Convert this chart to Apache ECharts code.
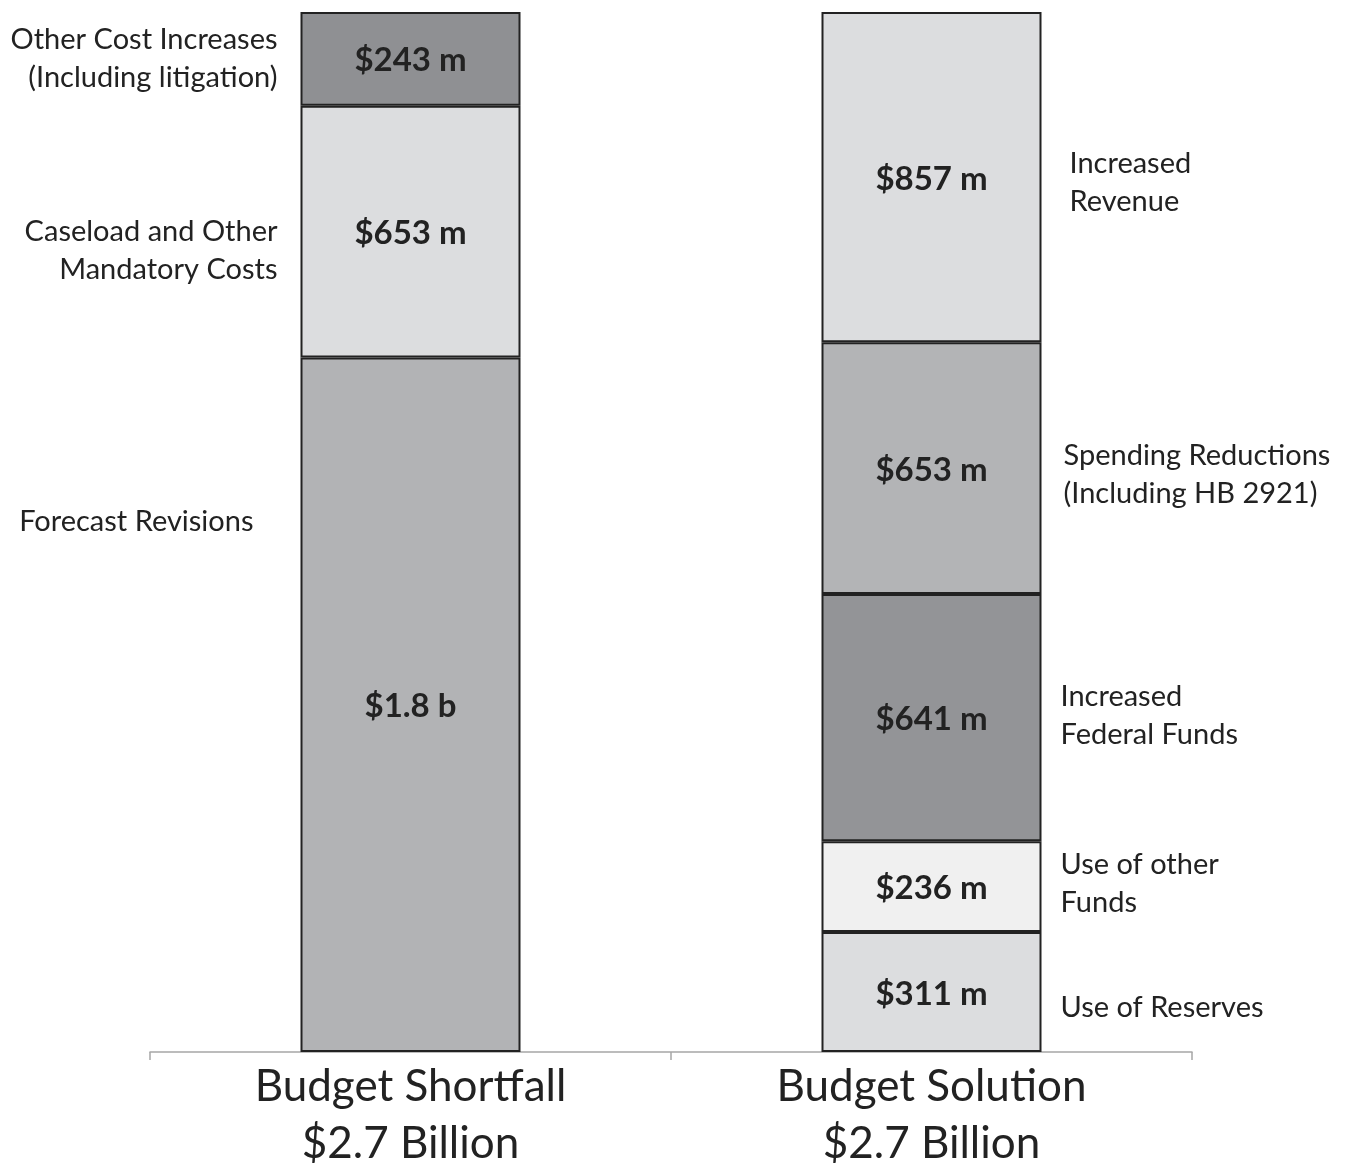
<!DOCTYPE html>
<html>
<head>
<meta charset="utf-8">
<script src="https://cdn.jsdelivr.net/npm/echarts@6/dist/echarts.min.js"></script>
<style>
    html, body { margin: 0; padding: 0; background: #fff; }
    #main { width: 1356px; height: 1164px; }
</style>
</head>
<body>
<div id="main"></div>
<script>
// category labels
var categories = ['Budget Shortfall\n$2.7 Billion', 'Budget Solution\n$2.7 Billion'];

// segments bottom -> top, $ millions
var shortfallNames = ['Forecast Revisions', 'Caseload and Other\nMandatory Costs', 'Other Cost Increases\n(Including litigation)'];
var shortfallValues = [1802, 653, 243];
var shortfallLabels = ['$1.8 b', '$653 m', '$243 m'];

var solutionNames = ['Use of Reserves', 'Use of other\nFunds', 'Increased\nFederal Funds', 'Spending Reductions\n(Including HB 2921)', 'Increased\nRevenue'];
var solutionValues = [311, 236, 641, 653, 857];
var solutionLabels = ['$311 m', '$236 m', '$641 m', '$653 m', '$857 m'];

// styling
var shortfallColors = ['#b2b3b5', '#dcdddf', '#8f9093'];
var solutionColors = ['#dcdddf', '#f0f0f0', '#939497', '#b3b4b6', '#dcdddf'];
// pixel nudges for the side captions [dx, dy]
var shortfallNudge = [[-24, -183], [0, 19], [0, 0]];
var solutionNudge = [[0, 16], [0, -3], [0, -2], [3, 6], [9, 5]];

var FONT = 'Lato, "Open Sans", sans-serif';
var TEXT = '#222222';

var myChart = echarts.init(document.getElementById('main'));

var series = [];
var levels = Math.max(shortfallValues.length, solutionValues.length);
for (var i = 0; i < levels; i++) {
    var d = [];
    d.push(i < shortfallValues.length ? {
        value: shortfallValues[i],
        itemStyle: { color: shortfallColors[i] },
        label: { formatter: shortfallLabels[i] }
    } : '-');
    d.push(i < solutionValues.length ? {
        value: solutionValues[i],
        itemStyle: { color: solutionColors[i] },
        label: { formatter: solutionLabels[i] }
    } : '-');
    series.push({
        type: 'bar',
        stack: 'total',
        barWidth: 220,
        data: d,
        itemStyle: { borderColor: '#222', borderWidth: 2 },
        label: {
            show: true,
            position: 'inside',
            offset: [0, 2],
            fontFamily: FONT,
            fontWeight: 'bold',
            fontSize: 33,
            color: TEXT
        },
        emphasis: { disabled: true },
        animation: false
    });
}

// side captions: [category, bottom, top, name, dx, dy]
var captions = [];
function addCaptions(cat, values, names, nudge) {
    var base = 0;
    values.forEach(function(v, k) {
        captions.push([cat, base, base + v, names[k], nudge[k][0], nudge[k][1]]);
        base += v;
    });
}
addCaptions(0, shortfallValues, shortfallNames, shortfallNudge);
addCaptions(1, solutionValues, solutionNames, solutionNudge);

series.push({
    type: 'custom',
    silent: true,
    animation: false,
    z: 10,
    data: captions,
    encode: { x: 0, y: 2 },
    renderItem: function(params, api) {
        var cat = api.value(0);
        var mid = (api.value(1) + api.value(2)) / 2;
        var pt = api.coord([cat, mid]);
        var left = cat === 0;
        var c = captions[params.dataIndex];
        return {
            type: 'text',
            x: left ? pt[0] - 110 - 23 + c[4] : pt[0] + 110 + 19 + c[4],
            y: pt[1] + c[5],
            style: {
                text: c[3],
                align: left ? 'right' : 'left',
                verticalAlign: 'middle',
                fontFamily: FONT,
                fontSize: 29,
                lineHeight: 38,
                fill: TEXT
            }
        };
    }
});

var option = {
    backgroundColor: '#ffffff',
    grid: { left: 150, right: 164, top: 12, bottom: 112, outerBoundsMode: 'none', containLabel: false },
    xAxis: {
        type: 'category',
        data: categories,
        axisLine: { lineStyle: { color: '#a6a6a6', width: 1.5 } },
        axisTick: { show: true, length: 8, lineStyle: { color: '#a6a6a6', width: 1.5 } },
        axisLabel: {
            fontFamily: FONT,
            fontSize: 44,
            lineHeight: 57,
            color: TEXT,
            margin: 6
        }
    },
    yAxis: {
        type: 'value',
        min: 0,
        max: 2698,
        show: false
    },
    series: series
};

myChart.setOption(option);
</script>
</body>
</html>
